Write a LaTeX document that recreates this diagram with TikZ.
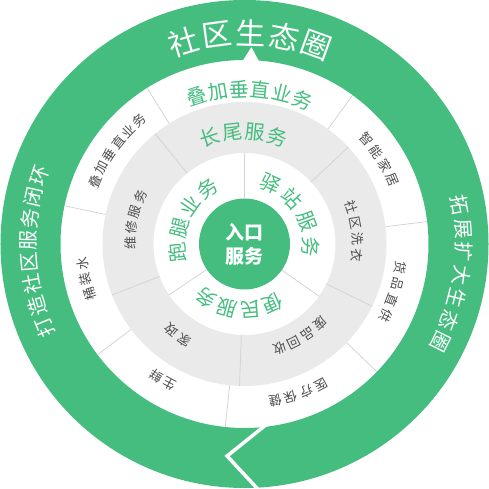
\documentclass[tikz,border=0pt]{standalone}
\usepackage{fontspec}
\setmainfont{Noto Sans CJK SC}
\usepackage{xcolor}
\usetikzlibrary{positioning}

\definecolor{ringgreen}{RGB}{68,189,127}
\definecolor{ringgray}{RGB}{234,234,234}
\definecolor{sepgray}{RGB}{212,212,212}
\definecolor{labelgray}{RGB}{78,78,78}

% characters set along an arc, tops outward, read clockwise
% #1 name, #2 mid angle, #3 radius, #4 step, #5 style, #6 characters
\newcommand{\arclabel}[6]{%
  \foreach \ch [count=\k] in {#6} {\xdef\nchars{\k}}%
  \foreach \ch [count=\k] in {#6} {
    \pgfmathsetmacro{\ang}{#2+(\nchars+1)/2*#4-\k*#4}
    \node[#5, rotate=\ang-90] (#1-\k) at (\ang:#3) {\ch};
  }%
}

\begin{document}
\begin{tikzpicture}[
    x=1pt, y=1pt,
    sepline/.style={draw=sepgray, line width=0.8pt},
    ringtitle/.style={text=white, inner sep=0pt, font=\fontsize{30}{30}\selectfont},
    ringside/.style={text=white, inner sep=0pt, font=\fontsize{20}{20}\selectfont},
    greenlabel/.style={text=ringgreen, inner sep=0pt, font=\fontsize{20}{20}\selectfont},
    graylabel/.style={text=labelgray, inner sep=0pt, font=\fontsize{13}{13}\selectfont},
    hub/.style={
        circle,
        fill=ringgreen,
        minimum size=91pt,
        inner sep=0pt,
        text=white,
        align=center,
        font=\fontsize{19}{24}\selectfont\bfseries
    }
]
\useasboundingbox (-244.5,-245) rectangle (244.5,244);

% outer green loop with pointer and cut
\fill[ringgreen, even odd rule] (0,0) circle (244) (0,0) circle (184);
\fill[white] (85.2:182) -- (88:197) -- (90.8:182) -- cycle;
\coordinate (cutin) at (22.5,-180);
\coordinate (cuttip) at (-17.4,-212);
\coordinate (cutout) at (17.9,-250);
\draw[white, line width=3.5pt] (cutin) -- (cuttip) -- (cutout);

% outer white ring
\foreach \a in {7,54,122,168,217,264,316}
    \draw[sepline] (\a:142) -- (\a:184);

% gray ring
\fill[ringgray, even odd rule] (0,0) circle (142) (0,0) circle (91);
\foreach \a in {43,129,201,268,334}
    \draw[sepline] (\a:91) -- (\a:142);

% inner white ring
\foreach \a in {90,214,325}
    \draw[sepline] (\a:45.5) -- (\a:91);

\node[hub] (entry) at (0,0) {入口\\服务};

% texts on the green loop
\arclabel{title}{88.4}{211}{9.2}{ringtitle}{社,区,生,态,圈}
\arclabel{close}{182}{216}{5.87}{ringside}{打,造,社,区,服,务,闭,环}
\arclabel{grow}{-8.2}{219}{6.13}{ringside}{拓,展,扩,大,生,态,圈}

% outer white ring
\arclabel{vert}{88}{155}{7.96}{greenlabel}{叠,加,垂,直,业,务}
\arclabel{vertsub}{143.9}{162}{5.4}{graylabel}{叠,加,垂,直,业,务}
\arclabel{smart}{32.1}{161}{5.8}{graylabel}{智,能,家,居}
\arclabel{water}{192.5}{163}{5.4}{graylabel}{桶,装,水}
\arclabel{fresh}{239}{159}{5.6}{graylabel}{生,鲜}
\arclabel{health}{289.8}{160}{5.8}{graylabel}{医,疗,保,健}
\arclabel{supply}{342.2}{158}{6}{graylabel}{货,品,直,供}

% gray ring
\arclabel{tail}{90.5}{112}{11.6}{greenlabel}{长,尾,服,务}
\arclabel{repair}{167.5}{114}{8.1}{graylabel}{维,修,服,务}
\arclabel{home}{234}{113}{8.1}{graylabel}{家,政}
\arclabel{recycle}{301}{110}{8.3}{graylabel}{废,品,回,收}
\arclabel{laundry}{6.6}{113}{8.2}{graylabel}{社,区,洗,衣}

% inner white ring
\arclabel{errand}{155.4}{67}{21}{greenlabel}{跑,腿,业,务}
\arclabel{station}{32}{66}{23}{greenlabel}{驿,站,服,务}
\arclabel{civic}{264.7}{66}{20}{greenlabel}{便,民,服,务}

\end{tikzpicture}
\end{document}
